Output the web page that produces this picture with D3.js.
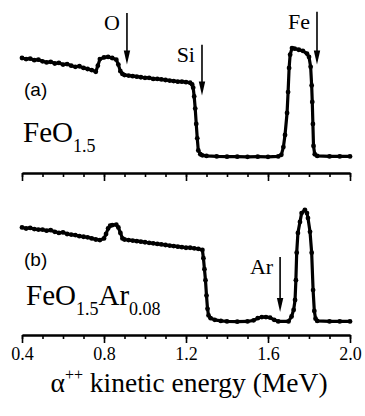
<!DOCTYPE html>
<html>
<head>
<meta charset="utf-8">
<script src="https://cdn.jsdelivr.net/npm/d3@7"></script>
<style>
  body { margin: 0; background: #fff; }
  svg { display: block; }
</style>
</head>
<body>
<script>
// spectrum (a): FeO1.5
const energyA = [0.40, 0.42, 0.44, 0.46, 0.48, 0.50, 0.52, 0.54, 0.56, 0.58, 0.60, 0.62, 0.64, 0.66, 0.68, 0.70,
  0.72, 0.74, 0.76, 0.77, 0.78, 0.80, 0.82, 0.84, 0.86, 0.87, 0.88, 0.89, 0.90, 0.92, 0.94, 0.96, 0.98, 1.00,
  1.02, 1.04, 1.06, 1.08, 1.10, 1.12, 1.14, 1.16, 1.18, 1.20, 1.22, 1.23, 1.235, 1.24, 1.245, 1.25, 1.255, 1.26,
  1.27, 1.28, 1.30, 1.35, 1.40, 1.45, 1.50, 1.55, 1.60, 1.65, 1.665, 1.675, 1.683, 1.693, 1.698, 1.703, 1.708,
  1.717, 1.73, 1.75, 1.77, 1.79, 1.80, 1.808, 1.813, 1.816, 1.819, 1.822, 1.828, 1.84, 1.90, 1.95, 2.00];
const yieldA = [90, 89, 89.5, 88, 88.5, 87, 86, 86.5, 85, 85.5, 84, 84.5, 83, 82, 82.5, 81,
  80, 79, 77.5, 83, 89, 90.5, 91, 90, 88.5, 84, 78, 75.5, 74.5, 74, 73.5, 73, 72.5, 72,
  72, 71, 71, 70.5, 70, 69.5, 69, 68.5, 68.5, 68, 67.5, 66, 63, 55, 44, 30, 17, 6,
  2.5, 1.5, 1, 0.5, 0.3, 0.3, 0.2, 0.3, 0.2, 0.5, 2, 9, 20, 40, 59, 81, 93,
  99, 98.5, 97.5, 96.5, 94, 91, 82, 65, 50, 30, 10, 2.5, 1, 0.5, 0.5, 0.5];

// spectrum (b): FeO1.5Ar0.08
const energyB = [0.40, 0.42, 0.44, 0.46, 0.48, 0.50, 0.52, 0.54, 0.56, 0.58, 0.60, 0.62, 0.64, 0.66, 0.68, 0.70,
  0.72, 0.74, 0.76, 0.78, 0.80, 0.81, 0.82, 0.83, 0.84, 0.86, 0.87, 0.88, 0.89, 0.90, 0.92, 0.94, 0.96, 0.98,
  1.00, 1.02, 1.04, 1.06, 1.08, 1.10, 1.12, 1.14, 1.16, 1.18, 1.20, 1.22, 1.24, 1.26, 1.28, 1.285, 1.29, 1.295,
  1.30, 1.305, 1.31, 1.32, 1.34, 1.37, 1.40, 1.45, 1.50, 1.53, 1.55, 1.57, 1.59, 1.61, 1.63, 1.65, 1.70, 1.715,
  1.725, 1.732, 1.736, 1.740, 1.746, 1.756, 1.764, 1.780, 1.790, 1.795, 1.805, 1.813, 1.820, 1.826, 1.832, 1.84,
  1.90, 1.95, 2.00];
const yieldB = [86, 85, 85.5, 84.5, 84, 84, 83, 83.5, 82, 81, 81.5, 80, 79.5, 79, 78, 77.5,
  77, 76, 75, 74.5, 76, 80, 85, 87.5, 88, 88.5, 86, 81, 76, 75, 74.5, 74, 73.5, 73,
  72.5, 72, 71.5, 71, 70.5, 70, 69.5, 69, 68.5, 68, 67.5, 67.5, 67, 66.5, 65.5, 58, 48, 38,
  24, 12, 6, 3.5, 2, 1, 0.5, 0.3, 0.5, 1.5, 3.5, 4.5, 4.5, 4, 2, 0.5, 0.5, 5,
  11, 20, 38, 63, 81, 91, 99, 102, 99, 94.5, 82, 63, 29, 10, 3, 1,
  0.5, 0.5, 0.5];

const majorTicks = [0.4, 0.8, 1.2, 1.6, 2.0];
const minorTicks = [0.4, 0.5, 0.6, 0.7, 0.8, 0.9, 1.0, 1.1, 1.2, 1.3, 1.4, 1.5, 1.6, 1.7, 1.8, 1.9, 2.0];

// surface-energy markers: label, energy, arrow top / tip in yield units
const markersA = [
  { label: 'O', energy: 0.912, from: 131, to: 84 },
  { label: 'Si', energy: 1.278, from: 102, to: 56 },
  { label: 'Fe', energy: 1.839, from: 132, to: 84 }
];
const markersB = [
  { label: 'Ar', energy: 1.659, from: 59, to: 9 }
];

const width = 365, height = 416;
const serif = "'Liberation Serif', 'Times New Roman', serif";
const sans = "'Liberation Sans', Arial, sans-serif";

const svg = d3.select('body').append('svg')
  .attr('width', width)
  .attr('height', height);

const x = d3.scaleLinear().domain([0.4, 2.0]).range([22, 350]);
const yA = d3.scaleLinear().domain([0, 100]).range([157, 47]);
const yB = d3.scaleLinear().domain([0, 100]).range([322, 212]);

function drawSpectrum(energy, values, y) {
  const pts = energy.map((e, i) => [e, values[i]]);
  const line = d3.line().x(d => x(d[0])).y(d => y(d[1]));
  svg.append('path')
    .datum(pts)
    .attr('d', line)
    .attr('fill', 'none')
    .attr('stroke', '#000')
    .attr('stroke-width', 3.2)
    .attr('stroke-linejoin', 'round');
  svg.append('g')
    .selectAll('circle')
    .data(pts)
    .join('circle')
    .attr('cx', d => x(d[0]))
    .attr('cy', d => y(d[1]))
    .attr('r', 2.4)
    .attr('fill', '#000');
}

function drawAxis(yPos, labels) {
  const minor = svg.append('g')
    .attr('transform', `translate(0,${yPos})`)
    .call(d3.axisBottom(x).tickValues(minorTicks).tickSize(4).tickSizeOuter(0).tickFormat(''));
  const major = svg.append('g')
    .attr('transform', `translate(0,${yPos})`)
    .call(d3.axisBottom(x).tickValues(majorTicks).tickSize(8).tickSizeOuter(0).tickPadding(4)
      .tickFormat(labels ? d3.format('.1f') : ''));
  [minor, major].forEach(g => {
    g.select('.domain').attr('stroke-width', 2);
    g.selectAll('.tick line').attr('stroke-width', 1.6);
  });
  major.selectAll('text')
    .attr('font-family', serif)
    .attr('font-size', 18)
    .attr('fill', '#000');
}

function drawMarkers(markers, y) {
  markers.forEach(m => {
    const xm = x(m.energy);
    svg.append('line')
      .attr('x1', xm).attr('x2', xm)
      .attr('y1', y(m.from)).attr('y2', y(m.to) - 10)
      .attr('stroke', '#000')
      .attr('stroke-width', 1.6);
    svg.append('path')
      .attr('d', `M${xm - 3.2},${y(m.to) - 14}L${xm + 3.2},${y(m.to) - 14}L${xm},${y(m.to)}Z`)
      .attr('fill', '#000');
    svg.append('text')
      .attr('x', xm - 7)
      .attr('y', y(m.from) + 17)
      .attr('text-anchor', 'end')
      .attr('font-family', serif)
      .attr('font-size', 22)
      .text(m.label);
  });
}

drawSpectrum(energyA, yieldA, yA);
drawSpectrum(energyB, yieldB, yB);
drawAxis(173, false);
drawAxis(335, true);
drawMarkers(markersA, yA);
drawMarkers(markersB, yB);

// panel tags
svg.append('text').attr('x', 24).attr('y', 96)
  .attr('font-family', sans).attr('font-size', 19).text('(a)');
svg.append('text').attr('x', 24).attr('y', 266)
  .attr('font-family', sans).attr('font-size', 19).text('(b)');

// sample formulas
const fA = svg.append('text').attr('x', 23).attr('y', 142)
  .attr('font-family', serif).attr('font-size', 29);
fA.append('tspan').text('FeO');
fA.append('tspan').attr('font-size', 18).attr('dy', 10).text('1.5');

const fB = svg.append('text').attr('x', 26).attr('y', 305)
  .attr('font-family', serif).attr('font-size', 29);
fB.append('tspan').text('FeO');
fB.append('tspan').attr('font-size', 18).attr('dy', 10).text('1.5');
fB.append('tspan').attr('dy', -10).text('Ar');
fB.append('tspan').attr('font-size', 18).attr('dy', 10).text('0.08');

// x axis title
const title = svg.append('text').attr('x', 189).attr('y', 392)
  .attr('text-anchor', 'middle')
  .attr('font-family', serif).attr('font-size', 27.5);
title.append('tspan').text('\u03B1');
title.append('tspan').attr('font-size', 16).attr('dy', -12).text('++');
title.append('tspan').attr('dy', 12).text(' kinetic energy (MeV)');
</script>
</body>
</html>
